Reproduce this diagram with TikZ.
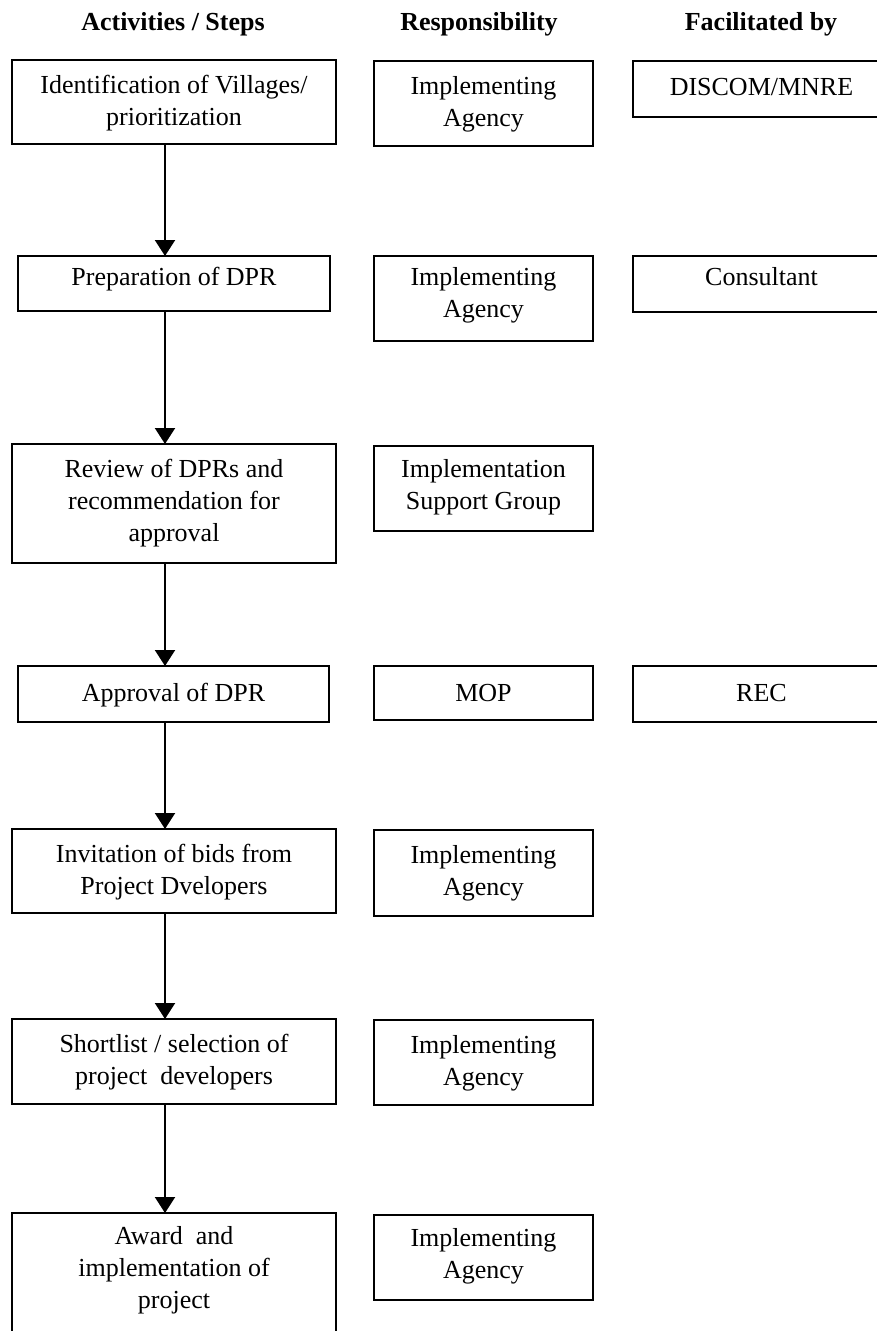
\documentclass[tikz,border=0pt]{standalone}
\usepackage{fontspec}
\setmainfont{Liberation Serif}
\usetikzlibrary{arrows.meta,calc}
\newcommand{\boxtext}[4]{\parbox[c][#2][t]{#1}{\centering\vspace*{#3}\strut #4\par}}
\tikzset{
  stepbox/.style={draw, line width=2pt, inner sep=0pt, outer sep=0pt, anchor=north west,
    font=\fontsize{26}{32}\selectfont},
  headtext/.style={anchor=base, inner sep=0pt, font=\fontsize{26}{32}\selectfont\bfseries},
  arr/.style={line width=2pt, -{Triangle[width=20pt,length=16pt]}}
}
\begin{document}
\begin{tikzpicture}[x=1pt,y=-1pt]
\useasboundingbox (0,0) rectangle (877,1331);
\fill[white] (0,0) rectangle (877,1331);
\clip (0,0) rectangle (877,1331);
% headers
\node[headtext] (h1) at (173,30) {Activities / Steps};
\node[headtext] (h2) at (479,30) {Responsibility};
\node[headtext] (h3) at (761,30) {Facilitated by};
% column 1
\node[stepbox] (b1) at (12,60)   {\boxtext{324pt}{84pt}{10.6pt}{Identification of Villages/\\prioritization}};
\node[stepbox] (b2) at (18,256)  {\boxtext{312pt}{55pt}{7pt}{Preparation of DPR}};
\node[stepbox] (b3) at (12,444)  {\boxtext{324pt}{119pt}{11pt}{Review of DPRs and\\recommendation for\\approval}};
\node[stepbox] (b4) at (18,666)  {\boxtext{311pt}{56pt}{13pt}{Approval of DPR}};
\node[stepbox] (b5) at (12,829)  {\boxtext{324pt}{84pt}{10.6pt}{Invitation of bids from\\Project Dvelopers}};
\node[stepbox] (b6) at (12,1019) {\boxtext{324pt}{85pt}{10.6pt}{Shortlist / selection of\\project\ \ developers}};
\node[stepbox] (b7) at (12,1213) {\boxtext{324pt}{119pt}{9.2pt}{Award\ \ and\\implementation of\\project}};
% column 2
\node[stepbox] (r1) at (374,61)   {\boxtext{219pt}{85pt}{10.6pt}{Implementing\\Agency}};
\node[stepbox] (r2) at (374,256)  {\boxtext{219pt}{85pt}{7pt}{Implementing\\Agency}};
\node[stepbox] (r3) at (374,446)  {\boxtext{219pt}{85pt}{9.4pt}{Implementation\\Support Group}};
\node[stepbox] (r4) at (374,666)  {\boxtext{219pt}{54pt}{13pt}{MOP}};
\node[stepbox] (r5) at (374,830)  {\boxtext{219pt}{86pt}{10.6pt}{Implementing\\Agency}};
\node[stepbox] (r6) at (374,1020) {\boxtext{219pt}{85pt}{10.6pt}{Implementing\\Agency}};
\node[stepbox] (r7) at (374,1215) {\boxtext{219pt}{85pt}{9.2pt}{Implementing\\Agency}};
% column 3
\node[stepbox] (f1) at (633,61)  {\boxtext{257pt}{56pt}{11.6pt}{DISCOM/MNRE}};
\node[stepbox] (f2) at (633,256) {\boxtext{257pt}{56pt}{7pt}{Consultant}};
\node[stepbox] (f4) at (633,666) {\boxtext{257pt}{56pt}{13pt}{REC}};
% connectors
\coordinate (ax) at (165,0);
\draw[arr] (b1.south -| ax) -- (b2.north -| ax);
\draw[arr] (b2.south -| ax) -- (b3.north -| ax);
\draw[arr] (b3.south -| ax) -- (b4.north -| ax);
\draw[arr] (b4.south -| ax) -- (b5.north -| ax);
\draw[arr] (b5.south -| ax) -- (b6.north -| ax);
\draw[arr] (b6.south -| ax) -- (b7.north -| ax);
\end{tikzpicture}
\end{document}
